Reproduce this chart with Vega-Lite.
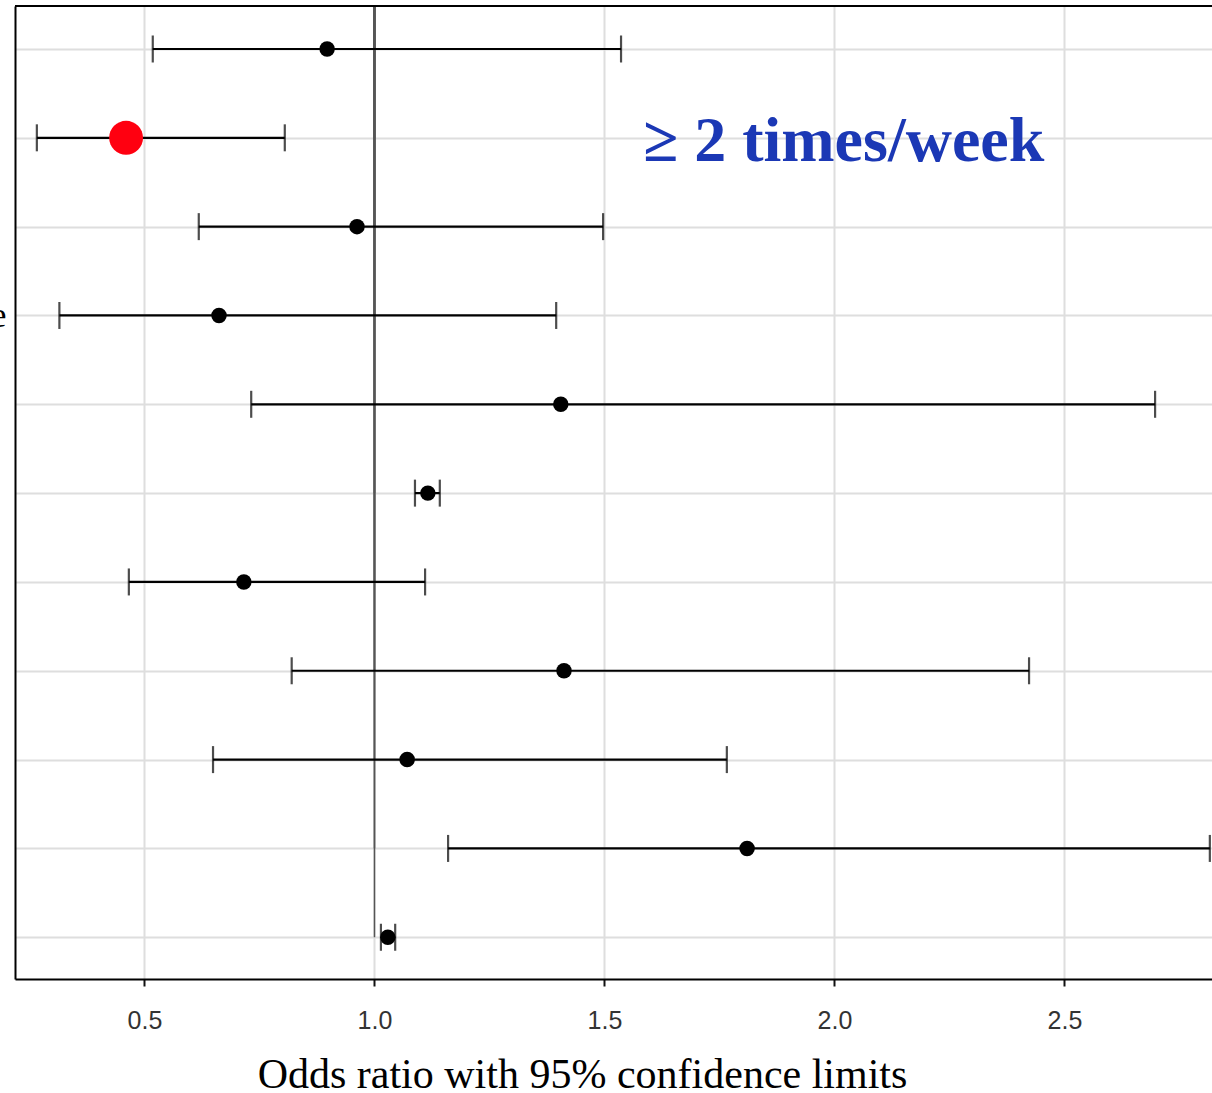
{
  "$schema": "https://vega.github.io/schema/vega-lite/v6.json",
  "autosize": {"type": "none"},
  "padding": {"left": 15, "top": 6, "right": 0, "bottom": 114},
  "width": 1197,
  "height": 973,
  "background": "white",
  "config": {
    "view": {"stroke": null},
    "axis": {"gridColor": "#dedede", "gridWidth": 2}
  },
  "data": {
    "values": [
      {"row": 1, "or": 0.897, "lo": 0.518, "hi": 1.536, "highlight": "no"},
      {"row": 2, "or": 0.460, "lo": 0.266, "hi": 0.805, "highlight": "yes"},
      {"row": 3, "or": 0.962, "lo": 0.618, "hi": 1.497, "highlight": "no"},
      {"row": 4, "or": 0.662, "lo": 0.315, "hi": 1.395, "highlight": "no"},
      {"row": 5, "or": 1.405, "lo": 0.732, "hi": 2.697, "highlight": "no"},
      {"row": 6, "or": 1.116, "lo": 1.088, "hi": 1.142, "highlight": "no"},
      {"row": 7, "or": 0.716, "lo": 0.466, "hi": 1.110, "highlight": "no"},
      {"row": 8, "or": 1.412, "lo": 0.820, "hi": 2.423, "highlight": "no"},
      {"row": 9, "or": 1.071, "lo": 0.649, "hi": 1.766, "highlight": "no"},
      {"row": 10, "or": 1.810, "lo": 1.160, "hi": 2.816, "highlight": "no"},
      {"row": 11, "or": 1.029, "lo": 1.014, "hi": 1.045, "highlight": "no"}
    ]
  },
  "layer": [
    {
      "mark": {"type": "rule", "color": "#555555", "strokeWidth": 1.5},
      "encoding": {
        "x": {
          "datum": 1,
          "type": "quantitative",
          "scale": {"domain": [0.2185, 2.8207], "nice": false, "zero": false},
          "axis": {
            "values": [0.5, 1.0, 1.5, 2.0, 2.5],
            "format": ".1f",
            "grid": true,
            "domain": true,
            "domainColor": "black",
            "domainWidth": 2,
            "ticks": true,
            "tickColor": "#111111",
            "tickWidth": 2,
            "tickSize": 7,
            "labelFont": "Liberation Sans",
            "labelFontSize": 25,
            "labelColor": "#333333",
            "labelPadding": 22,
            "title": "Odds ratio with 95% confidence limits",
            "titleFont": "Liberation Serif",
            "titleFontSize": 42,
            "titleFontWeight": "normal",
            "titleColor": "black",
            "titleAnchor": "start",
            "titleAlign": "center",
            "titleX": 567,
            "titleY": 108,
            "titleBaseline": "alphabetic"
          }
        },
        "y": {
          "field": "row",
          "type": "quantitative",
          "scale": {"domain": [0.516, 11.47], "reverse": true, "nice": false, "zero": false},
          "axis": {
            "values": [1, 2, 3, 4, 5, 6, 7, 8, 9, 10, 11],
            "grid": true,
            "domain": true,
            "domainColor": "black",
            "domainWidth": 2,
            "ticks": false,
            "labelExpr": "datum.value == 4 ? 'e' : ''",
            "labelFont": "Liberation Serif",
            "labelFontSize": 36,
            "labelColor": "black",
            "labelPadding": 9,
            "title": null
          }
        }
      }
    },
    {
      "mark": {"type": "rule", "color": "black", "strokeWidth": 2},
      "encoding": {"y": {"datum": 0.516, "type": "quantitative"}}
    },
    {
      "mark": {"type": "rule", "color": "#000000", "strokeWidth": 2.2},
      "encoding": {
        "x": {"field": "lo", "type": "quantitative"},
        "x2": {"field": "hi"},
        "y": {"field": "row", "type": "quantitative"}
      }
    },
    {
      "mark": {"type": "tick", "orient": "vertical", "color": "#000000", "thickness": 2.2, "size": 27},
      "encoding": {
        "x": {"field": "lo", "type": "quantitative"},
        "y": {"field": "row", "type": "quantitative"}
      }
    },
    {
      "mark": {"type": "tick", "orient": "vertical", "color": "#000000", "thickness": 2.2, "size": 27},
      "encoding": {
        "x": {"field": "hi", "type": "quantitative"},
        "y": {"field": "row", "type": "quantitative"}
      }
    },
    {
      "mark": {"type": "circle", "opacity": 1, "strokeWidth": 2, "strokeOpacity": 0.4},
      "encoding": {
        "x": {"field": "or", "type": "quantitative"},
        "y": {"field": "row", "type": "quantitative"},
        "color": {
          "field": "highlight",
          "type": "nominal",
          "scale": {"domain": ["no", "yes"], "range": ["black", "#ff0010"]},
          "legend": null
        },
        "size": {
          "field": "highlight",
          "type": "nominal",
          "scale": {"domain": ["no", "yes"], "range": [240, 1150]},
          "legend": null
        }
      }
    },
    {
      "data": {"values": [{"label": "≥ 2 times/week", "x": 2.02, "row": 2}]},
      "mark": {
        "type": "text",
        "font": "Liberation Serif",
        "fontWeight": "bold",
        "fontSize": 64,
        "color": "#1b38b5",
        "align": "center",
        "baseline": "alphabetic",
        "dy": 23
      },
      "encoding": {
        "x": {"field": "x", "type": "quantitative"},
        "y": {"field": "row", "type": "quantitative"},
        "text": {"field": "label"}
      }
    }
  ]
}
